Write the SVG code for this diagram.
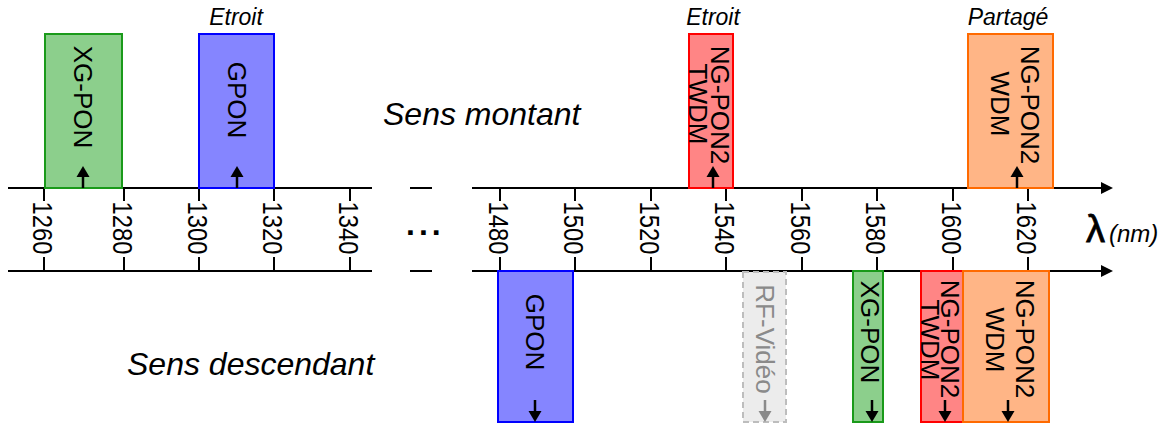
<svg xmlns="http://www.w3.org/2000/svg" width="1168" height="426" viewBox="0 0 1168 426">
<style>
  text { font-family: "Liberation Sans", Arial, sans-serif; fill: #000; }
  .axis { stroke: #000; stroke-width: 2; fill: none; }
  .tick { stroke: #000; stroke-width: 2; }
  .num { font-size: 28px; text-anchor: middle; }
  .lbl { font-size: 26px; text-anchor: middle; }
  .it { font-style: italic; }
  .note { font-size: 23px; font-style: italic; text-anchor: middle; }
  .sens { font-size: 32px; font-style: italic; }
  .green { fill: #8ccf8c; stroke: #1a9a1a; stroke-width: 2; }
  .blue { fill: #8585ff; stroke: #0000ff; stroke-width: 2; }
  .red { fill: #ff8585; stroke: #ff0000; stroke-width: 2; }
  .orange { fill: #ffb586; stroke: #ff6a00; stroke-width: 2; }
  .gray { fill: #ececec; stroke: #bdbdbd; stroke-width: 2; stroke-dasharray: 6 4; }
  .arr { stroke: #000; stroke-width: 2.5; fill: none; }
  .head { fill: #000; }
  .garr { stroke: #8a8a8a; stroke-width: 2.5; fill: none; }
  .ghead { fill: #8a8a8a; }
</style>
<defs>
  <marker id="axhead" markerWidth="12" markerHeight="12" refX="0" refY="6" orient="auto" markerUnits="userSpaceOnUse">
    <path d="M0,0 L12,6 L0,12 Z" fill="#000"/>
  </marker>
</defs>

<g id="connectors">
  <path class="axis" d="M8,188 H372"/>
  <path class="axis" d="M410,188 H432"/>
  <path class="axis" d="M472,188 H1101" marker-end="url(#axhead)"/>
  <path class="axis" d="M8,271 H372"/>
  <path class="axis" d="M410,271 H432"/>
  <path class="axis" d="M472,271 H1101" marker-end="url(#axhead)"/>
</g>

<g id="ticks">
  <path class="tick" d="M44,188 V201 M44,257 V271 M124,188 V201 M124,257 V271 M199,188 V201 M199,257 V271 M274,188 V201 M274,257 V271 M350,188 V201 M350,257 V271"/>
  <path class="tick" d="M500,188 V201 M500,257 V271 M575,188 V201 M575,257 V271 M651,188 V201 M651,257 V271 M726,188 V201 M726,257 V271 M802,188 V201 M802,257 V271 M877,188 V201 M877,257 V271 M953,188 V201 M953,257 V271 M1028,188 V201 M1028,257 V271"/>
  <text class="num" transform="translate(43,228) rotate(90)" dy="0.35em" textLength="53" lengthAdjust="spacingAndGlyphs">1260</text>
  <text class="num" transform="translate(123,228) rotate(90)" dy="0.35em" textLength="53" lengthAdjust="spacingAndGlyphs">1280</text>
  <text class="num" transform="translate(198,228) rotate(90)" dy="0.35em" textLength="53" lengthAdjust="spacingAndGlyphs">1300</text>
  <text class="num" transform="translate(273,228) rotate(90)" dy="0.35em" textLength="53" lengthAdjust="spacingAndGlyphs">1320</text>
  <text class="num" transform="translate(349,228) rotate(90)" dy="0.35em" textLength="53" lengthAdjust="spacingAndGlyphs">1340</text>
  <text class="num" transform="translate(499,228) rotate(90)" dy="0.35em" textLength="53" lengthAdjust="spacingAndGlyphs">1480</text>
  <text class="num" transform="translate(574,228) rotate(90)" dy="0.35em" textLength="53" lengthAdjust="spacingAndGlyphs">1500</text>
  <text class="num" transform="translate(650,228) rotate(90)" dy="0.35em" textLength="53" lengthAdjust="spacingAndGlyphs">1520</text>
  <text class="num" transform="translate(725,228) rotate(90)" dy="0.35em" textLength="53" lengthAdjust="spacingAndGlyphs">1540</text>
  <text class="num" transform="translate(801,228) rotate(90)" dy="0.35em" textLength="53" lengthAdjust="spacingAndGlyphs">1560</text>
  <text class="num" transform="translate(876,228) rotate(90)" dy="0.35em" textLength="53" lengthAdjust="spacingAndGlyphs">1580</text>
  <text class="num" transform="translate(952,228) rotate(90)" dy="0.35em" textLength="53" lengthAdjust="spacingAndGlyphs">1600</text>
  <text class="num" transform="translate(1027,228) rotate(90)" dy="0.35em" textLength="53" lengthAdjust="spacingAndGlyphs">1620</text>
  <text x="406" y="235" style="font-size:32px;font-weight:bold;letter-spacing:4px">...</text>
  <text x="1086" y="242" style="font-size:38px;stroke:#000;stroke-width:0.8">λ</text>
  <text x="1109" y="242" class="it" style="font-size:24px">(nm)</text>
</g>

<g id="labels">
  <text class="sens" x="383" y="125">Sens montant</text>
  <text class="sens" x="127" y="375">Sens descendant</text>
  <text class="note" x="236" y="25">Etroit</text>
  <text class="note" x="713" y="25">Etroit</text>
  <text class="note" x="1008" y="25">Partagé</text>
</g>

<g id="up-xgpon">
  <rect class="green" x="45" y="34" width="77" height="154"/>
  <text class="lbl" transform="translate(83,97) rotate(90)" dy="0.35em">XG-PON</text>
  <path class="arr" d="M83,188 V174"/><path class="head" d="M76.5,177 L83,166 L89.5,177 Z"/>
</g>
<g id="up-gpon">
  <rect class="blue" x="199" y="34" width="75" height="154"/>
  <text class="lbl" transform="translate(237,100) rotate(90)" dy="0.35em">GPON</text>
  <path class="arr" d="M237,188 V174"/><path class="head" d="M230.5,177 L237,166 L243.5,177 Z"/>
</g>
<g id="up-twdm">
  <rect class="red" x="689" y="34" width="44" height="154"/>
  <text class="lbl" transform="translate(720,105) rotate(90)" dy="0.35em">NG-PON2</text>
  <text class="lbl" transform="translate(698,104) rotate(90)" dy="0.35em">TWDM</text>
  <path class="arr" d="M713,188 V174"/><path class="head" d="M706.5,177 L713,166 L719.5,177 Z"/>
</g>
<g id="up-wdm">
  <rect class="orange" x="968" y="34" width="85" height="154"/>
  <text class="lbl" transform="translate(1030,105) rotate(90)" dy="0.35em">NG-PON2</text>
  <text class="lbl" transform="translate(1000,104) rotate(90)" dy="0.35em">WDM</text>
  <path class="arr" d="M1017,188 V174"/><path class="head" d="M1010.5,177 L1017,166 L1023.5,177 Z"/>
</g>

<g id="down-gpon">
  <rect class="blue" x="498" y="271" width="75" height="151"/>
  <text class="lbl" transform="translate(535,332) rotate(90)" dy="0.35em">GPON</text>
  <path class="arr" d="M535,400 V414"/><path class="head" d="M528.5,411 L535,422 L541.5,411 Z"/>
</g>
<g id="down-rfvideo">
  <rect class="gray" x="743" y="272" width="43" height="150"/>
  <text class="lbl" transform="translate(765,339) rotate(90)" dy="0.35em" style="fill:#8a8a8a">RF-Vidéo</text>
  <path class="garr" d="M765,400 V414"/><path class="ghead" d="M758.5,411 L765,422 L771.5,411 Z"/>
</g>
<g id="down-xgpon">
  <rect class="green" x="853" y="271" width="30" height="151"/>
  <text class="lbl" transform="translate(870,332) rotate(90)" dy="0.35em">XG-PON</text>
  <path class="arr" d="M872,400 V414"/><path class="head" d="M865.5,411 L872,422 L878.5,411 Z"/>
</g>
<g id="down-twdm">
  <rect class="red" x="921" y="271" width="42" height="151"/>
  <text class="lbl" transform="translate(950,339) rotate(90)" dy="0.35em">NG-PON2</text>
  <text class="lbl" transform="translate(930,340) rotate(90)" dy="0.35em">TWDM</text>
  <path class="arr" d="M945,400 V414"/><path class="head" d="M938.5,411 L945,422 L951.5,411 Z"/>
</g>
<g id="down-wdm">
  <rect class="orange" x="963" y="271" width="86" height="151"/>
  <text class="lbl" transform="translate(1025,339) rotate(90)" dy="0.35em">NG-PON2</text>
  <text class="lbl" transform="translate(995,340) rotate(90)" dy="0.35em">WDM</text>
  <path class="arr" d="M1008,400 V414"/><path class="head" d="M1001.5,411 L1008,422 L1014.5,411 Z"/>
</g>
</svg>
